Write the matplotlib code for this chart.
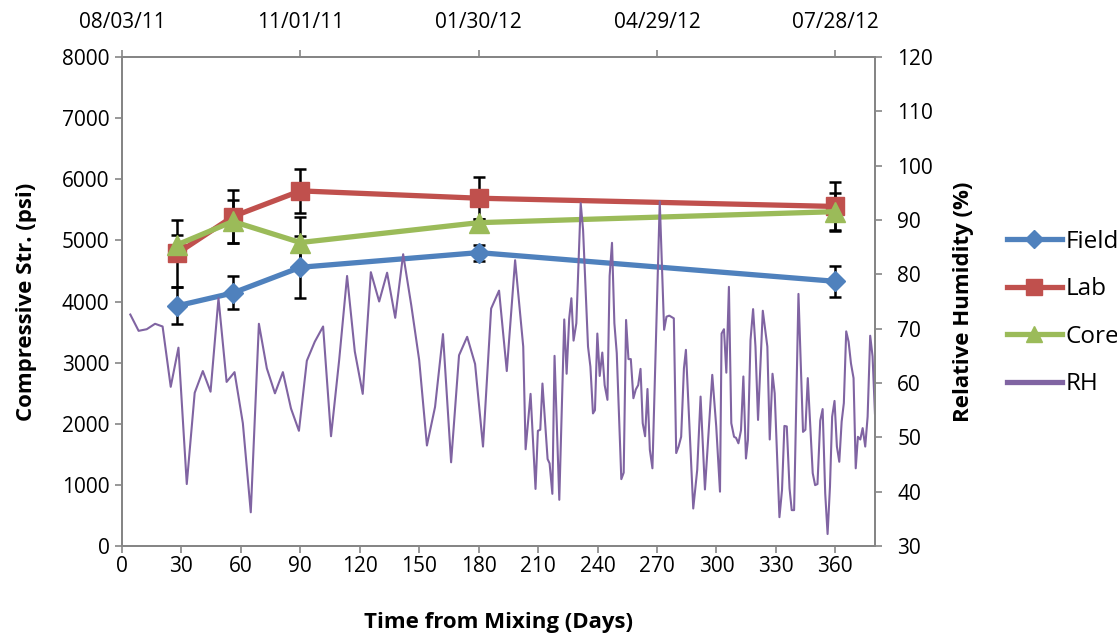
import matplotlib
matplotlib.use('Agg')
import matplotlib.pyplot as plt
from matplotlib.lines import Line2D

# Compressive strength at test ages (days from mixing)
days = [28, 56, 90, 180, 360]
field = [3930, 4140, 4560, 4800, 4330]
field_err = [300, 270, 510, 130, 255]
lab = [4790, 5390, 5810, 5690, 5555]
lab_err = [545, 430, 360, 345, 400]
core = [4930, 5310, 4965, 5290, 5470]
core_err = [160, 350, 415, 60, 300]

# Relative humidity record
rh_days = [4.2, 8.4, 12.5, 16.7, 20.5, 24.6, 28.5, 32.7, 36.7, 40.8, 44.7, 48.7, 52.8, 56.8,
           61.0, 65.0, 69.1, 73.1, 77.2, 81.2, 85.3, 89.3, 93.3, 97.3, 101.5, 105.5, 109.6,
           113.6, 117.5, 121.5, 125.6, 129.8, 133.8, 137.9, 141.9, 146.0, 150.0, 153.9, 158.0,
           162.0, 166.1, 170.1, 174.2, 178.2, 182.2, 186.3, 190.3, 194.2, 198.4, 202.5, 203.7,
           206.2, 208.7, 209.9, 211.1, 212.2, 214.8, 215.8, 217.2, 218.3, 220.7, 223.2, 224.4,
           225.7, 226.8, 227.9, 229.3, 231.5, 232.7, 235.2, 236.4, 237.7, 238.7, 239.9, 241.1,
           242.4, 243.6, 245.0, 246.1, 247.3, 248.5, 249.7, 252.0, 253.2, 254.4, 255.6, 256.8,
           258.1, 259.3, 260.5, 261.7, 262.8, 264.0, 265.2, 266.4, 267.7, 271.4, 273.6, 274.8,
           276.2, 278.5, 279.7, 280.9, 282.2, 283.6, 284.6, 288.3, 290.3, 292.0, 294.2, 297.9,
           299.9, 301.8, 302.6, 303.8, 305.0, 306.3, 307.5, 308.9, 309.9, 311.1, 312.4, 313.6,
           314.9, 315.9, 317.2, 318.5, 319.7, 321.0, 323.4, 325.7, 326.9, 328.3, 329.4, 331.8,
           333.1, 334.3, 335.5, 336.9, 338.0, 339.2, 341.4, 343.7, 344.9, 346.1, 348.6, 349.8,
           351.0, 352.4, 353.6, 354.9, 356.1, 357.3, 358.4, 359.6, 360.8, 362.0, 363.2, 364.3,
           365.5, 366.7, 367.9, 369.2, 370.3, 371.4, 372.6, 373.8, 375.1, 376.3, 377.6, 378.8,
           380.0]
rh = [72.6, 69.6, 69.9, 70.9, 70.4, 59.3, 66.5, 41.4, 58.2, 62.2, 58.4, 75.6, 60.2, 62.0,
      52.6, 36.2, 70.9, 62.7, 58.1, 62.0, 55.3, 51.2, 64.1, 67.6, 70.4, 50.2, 64.2,
      79.7, 65.8, 58.0, 80.4, 75.0, 80.3, 72.0, 83.7, 74.3, 64.2, 48.5, 55.6,
      69.0, 45.4, 65.1, 68.5, 63.5, 48.3, 73.7, 77.0, 62.2, 82.6, 66.7, 47.8,
      58.0, 40.5, 51.2, 51.4, 59.9, 46.0, 45.2, 39.6, 65.0, 38.5, 71.7, 61.7,
      71.9, 75.6, 67.8, 71.0, 93.1, 88.2, 66.7, 63.0, 54.4, 55.0, 69.1, 61.3,
      65.6, 59.6, 56.9, 79.7, 85.8, 71.0, 65.5, 42.3, 43.5, 71.6, 64.4, 64.4,
      57.2, 58.8, 59.6, 62.6, 52.6, 50.2, 58.9, 47.7, 44.3, 93.4, 69.8, 72.2,
      72.4, 71.9, 47.1, 48.3, 50.1, 62.7, 66.1, 36.9, 44.0, 57.5, 40.4, 61.5,
      52.0, 40.0, 69.1, 69.9, 61.9, 77.7, 52.6, 50.1, 49.9, 48.9, 51.3, 61.2,
      46.1, 49.5, 67.9, 73.6, 66.7, 53.2, 73.3, 66.7, 49.6, 61.7, 58.1, 35.3,
      40.3, 52.1, 52.0, 40.6, 36.6, 36.6, 76.4, 51.0, 51.4, 60.9, 43.4, 41.2,
      41.4, 53.1, 55.2, 39.7, 32.2, 40.9, 53.8, 56.7, 48.3, 45.5, 52.9, 56.3,
      69.5, 67.6, 63.6, 60.9, 44.3, 50.1, 49.6, 51.7, 48.3, 53.8, 68.7, 64.9,
      54.4]

top_ticks = [0, 90, 180, 270, 360]
top_labels = ['08/03/11', '11/01/11', '01/30/12', '04/29/12', '07/28/12']

blue = '#4F81BD'
red = '#C0504D'
green = '#9BBB59'
purple = '#8064A2'
axis_grey = '#868686'

plt.rcParams['font.family'] = 'Open Sans'

fig = plt.figure(figsize=(11.17, 6.4), dpi=100)
ax = fig.add_axes([0.1092, 0.1469, 0.6741, 0.764])

# Error bars go underneath the markers
for y, e in [(field, field_err), (lab, lab_err), (core, core_err)]:
    ax.errorbar(days, y, yerr=e, fmt='none', ecolor='black', elinewidth=1.8,
                capsize=4.3, capthick=1.8, zorder=2)

ax.plot(days, field, color=blue, lw=3.8, marker='D', ms=10.5, zorder=3)
ax.plot(days, lab, color=red, lw=3.8, marker='s', ms=13.5, zorder=3)
ax.plot(days, core, color=green, lw=3.8, marker='^', ms=14, zorder=3)

ax.set_xlim(0, 380)
ax.set_ylim(0, 8000)
ax.set_xticks(range(0, 361, 30))
ax.set_yticks(range(0, 8001, 1000))

# Secondary y axis for humidity
ax2 = ax.twinx()
ax2.plot(rh_days, rh, color=purple, lw=1.5)
ax2.set_ylim(30, 120)
ax2.set_yticks(range(30, 121, 10))

# Date axis along the top
top = ax.secondary_xaxis('top')
top.set_xticks(top_ticks)
top.set_xticklabels(top_labels)

for a in [ax, ax2, top]:
    for s in a.spines.values():
        s.set_color(axis_grey)
        s.set_linewidth(1.4)
    a.tick_params(colors=axis_grey, labelcolor='black', labelsize=15,
                  direction='out', length=5, width=1.2)

ax.tick_params(axis='y', pad=4)
ax.tick_params(axis='x', pad=2)
ax2.tick_params(axis='y', pad=11)
top.tick_params(axis='x', pad=12)

ax.set_ylabel('Compressive Str. (psi)', fontsize=16, fontweight='bold')
ax.yaxis.set_label_coords(-0.113, 0.5)
ax2.set_ylabel('Relative Humidity (%)', fontsize=16, fontweight='bold')
ax2.yaxis.set_label_coords(1.103, 0.5)
ax.set_xlabel('Time from Mixing (Days)', fontsize=16, fontweight='bold')
ax.xaxis.set_label_coords(0.5, -0.135)

handles = [
    Line2D([], [], color=blue, lw=3.8, marker='D', ms=9),
    Line2D([], [], color=red, lw=3.8, marker='s', ms=11.5),
    Line2D([], [], color=green, lw=3.8, marker='^', ms=12),
    Line2D([], [], color=purple, lw=3.8),
]
fig.legend(handles, ['Field', 'Lab', 'Core', 'RH'], loc='center left',
           bbox_to_anchor=(0.882, 0.511), frameon=False, fontsize=17.5,
           handlelength=2.25, handletextpad=0.15, labelspacing=0.97)

fig.savefig('out.png', dpi=100)
